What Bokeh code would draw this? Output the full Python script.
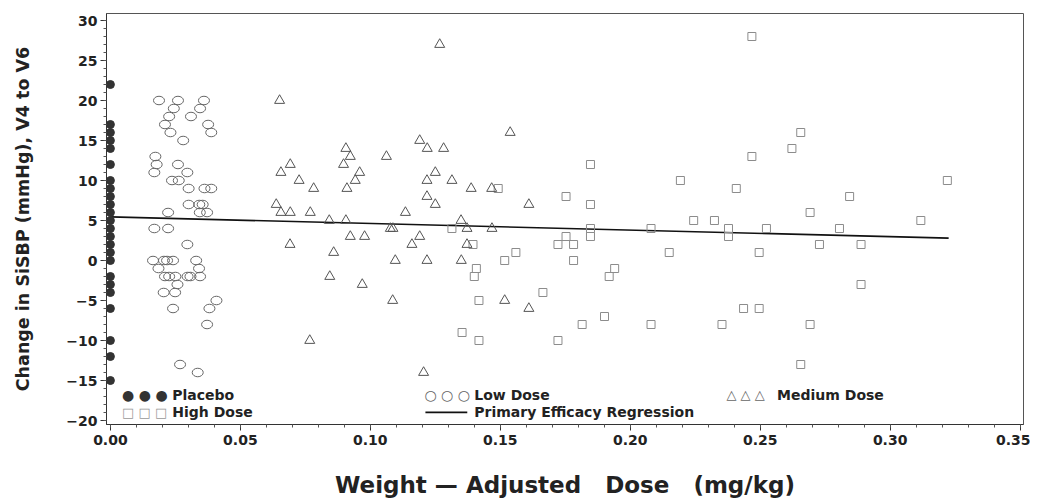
from bokeh.plotting import figure
from bokeh.models import Range1d, FixedTicker, NumeralTickFormatter, CustomJSTickFormatter, Label, BoxAnnotation
from bokeh.embed import file_html
from bokeh.resources import INLINE

# ---------------- data ----------------
placebo_x = [0.0, 0.0, 0.0, 0.0, 0.0, 0.0, 0.0, 0.0, 0.0, 0.0, 0.0, 0.0,
             0.0, 0.0, 0.0, 0.0, 0.0, 0.0, 0.0, 0.0, 0.0, 0.0, 0.0, 0.0]
placebo_y = [22, 17, 16, 15, 14, 12, 10, 9, 8, 7, 6, 5,
             4, 3, 2, 1, 0, -2, -3, -4, -6, -10, -12, -15]

low_x = [0.0187, 0.026, 0.036, 0.0244, 0.0345, 0.0226, 0.031, 0.021, 0.0376, 0.0231,
         0.0388, 0.028, 0.0173, 0.0178, 0.026, 0.0169, 0.0296, 0.0237, 0.0263, 0.0301,
         0.0362, 0.0388, 0.0301, 0.0342, 0.0355, 0.0222, 0.0344, 0.0372, 0.0169, 0.0222,
         0.0296, 0.0164, 0.0206, 0.0218, 0.0241, 0.033, 0.0185, 0.0341, 0.021, 0.0226,
         0.025, 0.0297, 0.0308, 0.0345, 0.0258, 0.0205, 0.0249, 0.0408, 0.0241, 0.0381,
         0.0372, 0.0268, 0.0336]
low_y = [20, 20, 20, 19, 19, 18, 18, 17, 17, 16,
         16, 15, 13, 12, 12, 11, 11, 10, 10, 9,
         9, 9, 7, 7, 7, 6, 6, 6, 4, 4,
         2, 0, 0, 0, 0, 0, -1, -1, -2, -2,
         -2, -2, -2, -2, -3, -4, -4, -5, -6, -6,
         -8, -13, -14]

med_x = [0.0651, 0.0906, 0.0897, 0.0656, 0.0692, 0.0726, 0.0782, 0.091, 0.0638, 0.0656,
         0.0692, 0.0769, 0.0842, 0.0906, 0.0691, 0.0859, 0.0844, 0.0767, 0.1267, 0.1538,
         0.119, 0.1219, 0.1282, 0.0923, 0.1062, 0.0959, 0.125, 0.0942, 0.1218, 0.1314,
         0.1388, 0.1467, 0.1218, 0.125, 0.1135, 0.1349, 0.1372, 0.1468, 0.1077, 0.1087,
         0.0923, 0.0978, 0.119, 0.116, 0.1372, 0.1096, 0.1218, 0.135, 0.0969, 0.1086,
         0.1517, 0.1205, 0.161, 0.161]
med_y = [20, 14, 12, 11, 12, 10, 9, 9, 7, 6,
         6, 6, 5, 5, 2, 1, -2, -10, 27, 16,
         15, 14, 14, 13, 13, 11, 11, 10, 10, 10,
         9, 9, 8, 7, 6, 5, 4, 4, 4, 4,
         3, 3, 3, 2, 2, 0, 0, 0, -3, -5,
         -5, -14, 7, -6]

high_x = [0.1492, 0.1314, 0.1517, 0.156, 0.1408, 0.14, 0.1418, 0.1353, 0.1418, 0.1395,
          0.2468, 0.2468, 0.1847, 0.2193, 0.2408, 0.1753, 0.1847, 0.2244, 0.2324, 0.2378,
          0.2378, 0.2524, 0.208, 0.1847, 0.1847, 0.1753, 0.1722, 0.1782, 0.1782, 0.215,
          0.2496, 0.194, 0.1919, 0.1664, 0.2436, 0.2496, 0.1901, 0.1815, 0.208, 0.2353,
          0.1722, 0.2656, 0.2622, 0.322, 0.2844, 0.2692, 0.2805, 0.3118, 0.2728, 0.2888,
          0.2888, 0.2692, 0.2656]
high_y = [9, 4, 0, 1, -1, -2, -5, -9, -10, 2,
          28, 13, 12, 10, 9, 8, 7, 5, 5, 4,
          3, 4, 4, 4, 3, 3, 2, 2, 0, 1,
          1, -1, -2, -4, -6, -6, -7, -8, -8, -8,
          -10, 16, 14, 10, 8, 6, 4, 5, 2, 2,
          -3, -8, -13]

reg_x = [0.0, 0.3225]
reg_y = [5.45, 2.8]

x_ticks = [0.0, 0.05, 0.10, 0.15, 0.20, 0.25, 0.30, 0.35]
y_ticks = [-20, -15, -10, -5, 0, 5, 10, 15, 20, 25, 30]

legend_labels = ["Placebo", "Low Dose", "Medium Dose", "High Dose", "Primary Efficacy Regression"]
x_label = "Weight \u2014 Adjusted\u00a0\u00a0\u00a0Dose\u00a0\u00a0\u00a0(mg/kg)"
y_label = "Change in SiSBP (mmHg), V4 to V6"

# ---------------- figure ----------------
FONT = "DejaVu Sans"
p = figure(width=1030, height=503,
           x_range=Range1d(-0.0015, 0.3513), y_range=Range1d(-20.5, 30.875),
           output_backend="svg", toolbar_location=None,
           min_border_left=106, min_border_right=7, min_border_top=13, min_border_bottom=79)
p.xgrid.visible = False
p.ygrid.visible = False
p.outline_line_color = "#555555"
p.outline_line_width = 1
p.background_fill_color = "white"
p.border_fill_color = "white"

p.xaxis.ticker = FixedTicker(ticks=x_ticks, minor_ticks=[i / 100 for i in range(36)])
p.xaxis.formatter = NumeralTickFormatter(format="0.00")
p.yaxis.ticker = FixedTicker(ticks=y_ticks, minor_ticks=list(range(-20, 31)))
p.yaxis.formatter = CustomJSTickFormatter(code="return tick < 0 ? '\\u2212' + Math.abs(tick) : String(tick);")

for ax in (p.xaxis[0], p.yaxis[0]):
    ax.axis_line_color = "#333333"
    ax.major_tick_line_color = "#333333"
    ax.minor_tick_line_color = "#555555"
    ax.major_tick_out = 6
    ax.major_tick_in = 0
    ax.minor_tick_out = 3
    ax.minor_tick_in = 0
    ax.major_label_text_font = FONT
    ax.major_label_text_font_style = "bold"
    ax.major_label_text_font_size = "14px"
    ax.major_label_text_color = "#222222"
    ax.axis_label_text_font = FONT
    ax.axis_label_text_font_style = "bold"
    ax.axis_label_text_color = "#222222"

p.xaxis.axis_label = x_label
p.xaxis.axis_label_text_font_size = "23px"
p.xaxis.major_label_standoff = 4
p.xaxis.axis_label_standoff = 24
p.yaxis.axis_label = y_label
p.yaxis.axis_label_text_font_size = "17.5px"
p.yaxis.major_label_standoff = 3
p.yaxis.axis_label_standoff = 30

# ---------------- glyphs ----------------
p.line(reg_x, reg_y, line_color="#111111", line_width=1.6)
p.scatter(high_x, high_y, marker="square", size=8, fill_color=None, line_color="#8c8c8c", line_width=1)
p.scatter(med_x, med_y, marker="triangle", size=10, fill_color=None, line_color="#555555", line_width=1)
p.ellipse(low_x, low_y, width=11, height=8.5, width_units="screen", height_units="screen",
          fill_color=None, line_color="#666666", line_width=1)
p.scatter(placebo_x, placebo_y, marker="circle", size=8, fill_color="#333333", line_color="#333333")

# ---------------- legend (manual, inside plot) ----------------
def lab(x, y, text, color="#222222", size="14px", bold=True):
    p.add_layout(Label(x=x, y=y, text=text, text_font=FONT, text_font_size=size,
                       text_font_style="bold" if bold else "normal", text_color=color,
                       text_baseline="middle", text_align="left"))

row1, row2 = -16.75, -18.98
lab(0.0045, row1, "\u25cf \u25cf \u25cf", color="#333333", size="14px", bold=False)
lab(0.0238, row1, legend_labels[0])
lab(0.1208, row1, "\u25cb \u25cb \u25cb", color="#666666", size="14px", bold=False)
lab(0.1400, row1, legend_labels[1])
lab(0.2370, row1, "\u25b3 \u25b3 \u25b3", color="#666666", size="13px", bold=False)
lab(0.2565, row1, legend_labels[2])
lab(0.0045, row2, "\u25a1 \u25a1 \u25a1", color="#999999", size="13px", bold=False)
lab(0.0238, row2, legend_labels[3])
p.add_layout(BoxAnnotation(left=0.1212, right=0.1373, bottom=row2 - 0.1, top=row2 + 0.1,
                           fill_color="#111111", fill_alpha=1.0, line_color=None))
lab(0.1400, row2, legend_labels[4])

open("out.html", "w").write(file_html(p, INLINE))
